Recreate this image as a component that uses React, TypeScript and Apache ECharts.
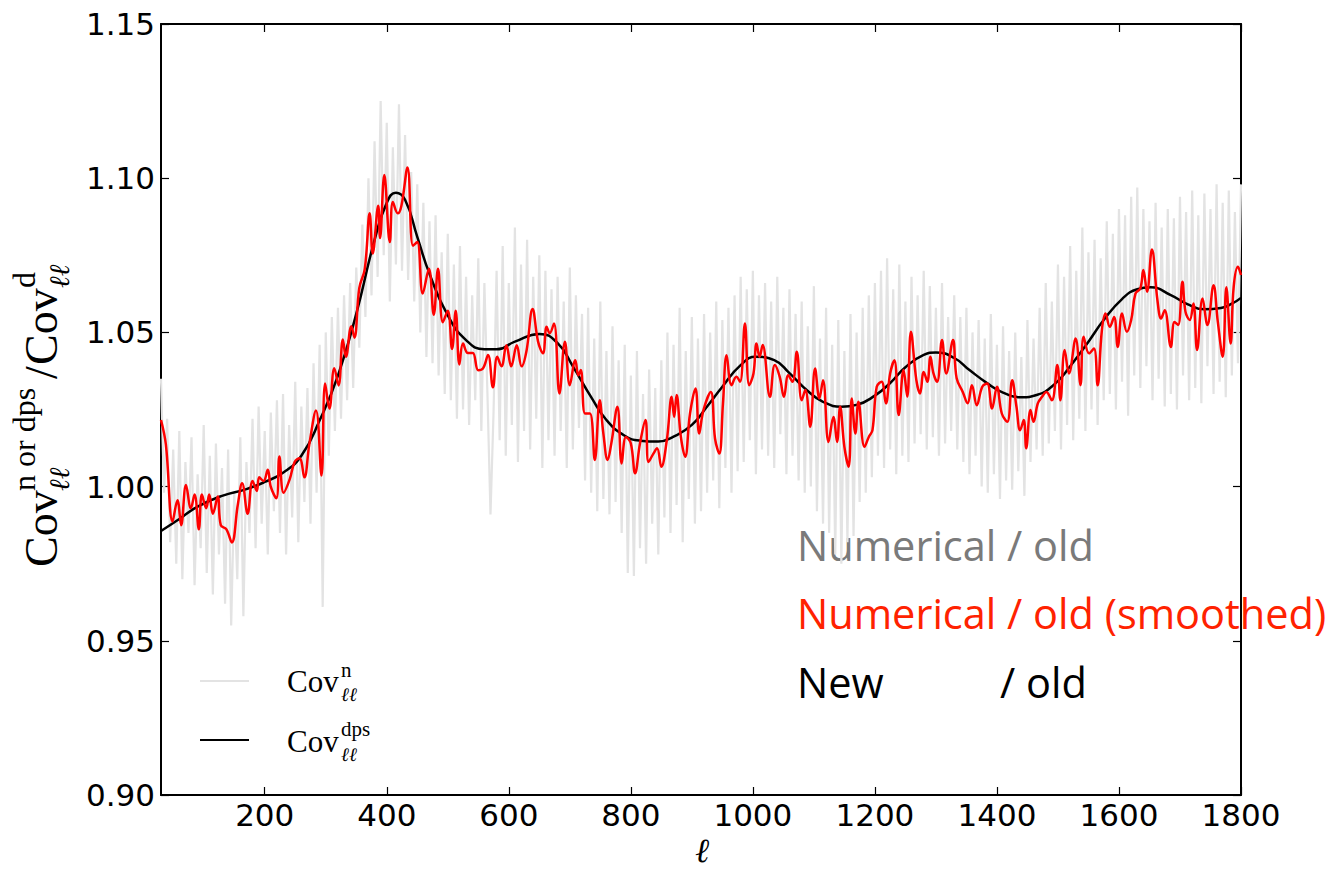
import React, { useEffect, useRef } from "react";
import * as echarts from "echarts";

// x tick labels (multipole ℓ)
const xTicks = [200, 400, 600, 800, 1000, 1200, 1400, 1600, 1800];
const xMin = 30;
const xMax = 1800;
const yMin = 0.9;
const yMax = 1.15;
const yStep = 0.05;

// Cov^n / old : noisy ratio, sampled on the grid ℓ = 30, 35, 40, ... 1800
const grayStart = 30;
const grayStep = 5;
const grayValues = [
  1.035, 0.998, 1.022, 0.982, 1.012, 0.975, 1.018, 0.970, 1.008, 0.985,
  1.016, 0.968, 1.004, 0.980, 1.020, 0.972, 1.010, 0.965, 1.014, 0.978,
  1.006, 0.962, 1.012, 0.955, 0.998, 0.970, 1.016, 0.958, 1.008, 0.985,
  1.022, 0.980, 1.026, 0.988, 1.018, 0.978, 1.024, 0.992, 1.028, 0.985,
  1.030, 0.978, 1.020, 0.990, 1.034, 0.982, 1.026, 0.995, 1.032, 0.988,
  1.040, 0.998, 1.046, 0.961, 1.050, 1.010, 1.055, 1.018, 1.058, 1.022,
  1.062, 1.028, 1.066, 1.032, 1.071, 1.045, 1.085, 1.055, 1.100, 1.062,
  1.112, 1.068, 1.125, 1.075, 1.118, 1.060, 1.110, 1.072, 1.124, 1.070,
  1.114, 1.067, 1.102, 1.060, 1.098, 1.050, 1.092, 1.042, 1.086, 1.040,
  1.088, 1.036, 1.076, 1.030, 1.082, 1.028, 1.072, 1.022, 1.078, 1.025,
  1.068, 1.020, 1.062, 1.028, 1.074, 1.018, 1.066, 1.030, 0.991, 1.024,
  1.070, 1.015, 1.078, 1.010, 1.066, 1.020, 1.084, 1.008, 1.072, 1.018,
  1.080, 1.012, 1.068, 1.022, 1.075, 1.006, 1.070, 1.015, 1.064, 1.010,
  1.068, 1.018, 1.060, 1.006, 1.071, 1.012, 1.062, 1.019, 1.056, 1.002,
  1.058, 0.998, 1.048, 0.992, 1.060, 0.996, 1.044, 0.991, 1.052, 0.995,
  1.041, 0.985, 1.046, 0.972, 1.036, 0.971, 1.044, 0.980, 1.030, 0.975,
  1.038, 0.988, 1.032, 0.978, 1.041, 0.990, 1.050, 0.985, 1.046, 0.994,
  1.058, 0.982, 1.044, 0.996, 1.055, 0.988, 1.048, 0.992, 1.056, 0.998,
  1.050, 1.002, 1.060, 0.993, 1.054, 1.006, 1.058, 0.998, 1.062, 1.005,
  1.068, 1.008, 1.064, 1.015, 1.070, 1.004, 1.062, 1.012, 1.066, 1.010,
  1.060, 1.006, 1.068, 1.017, 1.058, 1.004, 1.064, 1.010, 1.056, 1.002,
  1.060, 0.998, 1.052, 1.000, 1.065, 0.992, 1.048, 0.988, 1.058, 0.985,
  1.046, 0.978, 1.054, 0.975, 1.044, 0.982, 1.056, 0.984, 1.050, 0.995,
  1.058, 0.998, 1.062, 1.003, 1.066, 1.010, 1.070, 1.006, 1.074, 1.012,
  1.064, 1.004, 1.072, 1.010, 1.060, 1.008, 1.068, 1.014, 1.062, 1.017,
  1.070, 1.012, 1.065, 1.016, 1.058, 1.010, 1.066, 1.014, 1.055, 1.018,
  1.062, 1.012, 1.055, 1.008, 1.058, 1.004, 1.050, 1.010, 1.054, 1.000,
  1.048, 0.998, 1.056, 1.004, 1.046, 0.996, 1.052, 1.002, 1.044, 0.999,
  1.050, 1.005, 1.042, 0.997, 1.054, 1.008, 1.048, 1.012, 1.058, 1.010,
  1.066, 1.014, 1.060, 1.018, 1.072, 1.012, 1.068, 1.020, 1.078, 1.015,
  1.070, 1.022, 1.084, 1.018, 1.076, 1.025, 1.080, 1.020, 1.074, 1.028,
  1.086, 1.030, 1.082, 1.025, 1.090, 1.034, 1.088, 1.023, 1.094, 1.036,
  1.097, 1.032, 1.090, 1.039, 1.086, 1.028, 1.092, 1.035, 1.084, 1.026,
  1.090, 1.030, 1.087, 1.025, 1.094, 1.036, 1.089, 1.028, 1.096, 1.032,
  1.088, 1.027, 1.095, 1.039, 1.090, 1.030, 1.098, 1.034, 1.092, 1.029,
  1.096, 1.036, 1.089, 1.040, 1.098,
];

// Numerical / old (smoothed): [ℓ, ratio]
const redPoints = [
  [30, 1.0216], [38, 1.0136], [49, 0.9887], [57, 0.9956], [63, 0.9875], [71, 1.0005], [79, 0.993], [85, 0.9974],
  [92, 0.9862], [97, 0.9974], [104, 0.993], [109, 0.9974], [115, 0.9912], [123, 0.9968], [128, 0.9875], [137, 0.9862],
  [146, 0.9819], [156, 0.9943], [163, 1.0011], [172, 0.9912], [180, 1.0018], [187, 0.9986], [191, 1.003], [198, 1.0018],
  [205, 1.0055], [210, 0.9999], [219, 0.9962], [224, 1.0098], [231, 0.998], [241, 1.0024], [249, 1.008], [257, 1.0092],
  [265, 1.003], [273, 1.0136], [284, 1.0247], [293, 1.0036], [299, 1.0334], [306, 1.0253], [314, 1.0384], [321, 1.0328],
  [328, 1.0477], [333, 1.0421], [342, 1.052], [347, 1.0483], [355, 1.0644], [364, 1.0706], [372, 1.0886], [377, 1.0756],
  [386, 1.0911], [389, 1.0806], [396, 1.101], [405, 1.0793], [410, 1.0923], [418, 1.0886], [424, 1.0911], [434, 1.1035],
  [443, 1.0781], [450, 1.0793], [459, 1.0626], [469, 1.0706], [477, 1.0557], [484, 1.0706], [492, 1.0533], [500, 1.057],
  [507, 1.0446], [513, 1.057], [519, 1.0396], [525, 1.0464], [533, 1.0433], [541, 1.0433], [550, 1.0377], [558, 1.0384],
  [566, 1.0427], [574, 1.0322], [581, 1.0421], [588, 1.039], [596, 1.0458], [604, 1.039], [613, 1.0458], [621, 1.039],
  [629, 1.044], [639, 1.0576], [648, 1.047], [656, 1.0432], [662, 1.0518], [667, 1.0497], [674, 1.0529], [683, 1.0302],
  [692, 1.047], [700, 1.0329], [709, 1.041], [714, 1.0361], [718, 1.0378], [725, 1.0237], [733, 1.0237], [741, 1.0086],
  [749, 1.028], [755, 1.0172], [762, 1.0086], [768, 1.014], [778, 1.0259], [785, 1.0075], [792, 1.0161], [800, 1.014],
  [807, 1.0043], [815, 1.014], [824, 1.0216], [829, 1.008], [837, 1.0107], [843, 1.0124], [850, 1.0064], [859, 1.0151],
  [867, 1.0291], [871, 1.0226], [875, 1.0297], [882, 1.0161], [889, 1.0097], [897, 1.0237], [906, 1.0318], [912, 1.0172],
  [919, 1.0248], [931, 1.0307], [938, 1.0156], [945, 1.0107], [951, 1.027], [957, 1.0426], [965, 1.0329], [973, 1.0356],
  [979, 1.034], [987, 1.0529], [994, 1.0329], [1001, 1.0367], [1006, 1.0464], [1011, 1.0421], [1016, 1.0459], [1028, 1.0291],
  [1036, 1.0394], [1044, 1.0356], [1051, 1.0291], [1058, 1.0361], [1065, 1.034], [1072, 1.0437], [1080, 1.028], [1086, 1.0313],
  [1094, 1.0194], [1102, 1.0383], [1109, 1.0286], [1115, 1.0345], [1124, 1.0145], [1132, 1.0226], [1138, 1.0145], [1143, 1.0259],
  [1150, 1.0129], [1157, 1.0064], [1162, 1.0286], [1168, 1.0172], [1173, 1.0275], [1183, 1.0129], [1190, 1.0161], [1196, 1.0183],
  [1203, 1.0324], [1211, 1.034], [1218, 1.027], [1225, 1.0367], [1232, 1.041], [1239, 1.0232], [1247, 1.0378], [1253, 1.0291],
  [1259, 1.0502], [1268, 1.0345], [1274, 1.0302], [1280, 1.0372], [1286, 1.034], [1291, 1.0421], [1296, 1.0367], [1302, 1.034],
  [1310, 1.0475], [1317, 1.0367], [1328, 1.0475], [1334, 1.0351], [1344, 1.0307], [1352, 1.027], [1359, 1.0329], [1367, 1.0264],
  [1376, 1.0324], [1384, 1.0334], [1392, 1.0253], [1400, 1.0324], [1408, 1.0237], [1417, 1.021], [1425, 1.0345], [1432, 1.0259],
  [1438, 1.0183], [1444, 1.0216], [1448, 1.0124], [1455, 1.0248], [1460, 1.021], [1467, 1.027], [1474, 1.0291], [1481, 1.0307],
  [1490, 1.028], [1499, 1.0394], [1504, 1.028], [1511, 1.0443], [1518, 1.0367], [1529, 1.048], [1537, 1.0329], [1542, 1.0486],
  [1551, 1.0432], [1559, 1.0448], [1565, 1.0329], [1572, 1.0507], [1578, 1.0561], [1585, 1.0518], [1592, 1.055], [1598, 1.0453],
  [1605, 1.0561], [1613, 1.0502], [1620, 1.054], [1627, 1.0626], [1635, 1.0643], [1640, 1.0702], [1646, 1.0632], [1654, 1.0769],
  [1663, 1.0605], [1669, 1.0545], [1675, 1.0572], [1685, 1.0453], [1691, 1.0534], [1697, 1.0524], [1704, 1.0664], [1709, 1.0567],
  [1716, 1.054], [1722, 1.0594], [1728, 1.0443], [1737, 1.061], [1745, 1.0524], [1755, 1.0653], [1762, 1.0534], [1770, 1.0421],
  [1776, 1.0646], [1783, 1.0464], [1788, 1.0648], [1795, 1.0713], [1800, 1.0686],
];

// New / old (Cov^dps): [ℓ, ratio]
const blackPoints = [
  [30, 0.9856], [60, 0.9895], [90, 0.9935], [130, 0.997], [170, 0.9992], [200, 1.0015], [230, 1.0045], [260, 1.010],
  [290, 1.0215], [320, 1.036], [350, 1.056], [380, 1.080], [400, 1.092], [415, 1.0953], [430, 1.093], [450, 1.081],
  [470, 1.069], [500, 1.0555], [530, 1.0475], [560, 1.0445], [580, 1.0445], [610, 1.047], [650, 1.0495], [680, 1.0465],
  [705, 1.039], [735, 1.029], [760, 1.0216], [790, 1.0165], [815, 1.0149], [845, 1.0146], [870, 1.0162], [900, 1.020],
  [925, 1.026], [950, 1.0324], [980, 1.0394], [1005, 1.0421], [1035, 1.041], [1060, 1.0368], [1090, 1.031], [1115, 1.0275],
  [1145, 1.0259], [1170, 1.0265], [1200, 1.0295], [1225, 1.0336], [1250, 1.0387], [1280, 1.0427], [1300, 1.0435], [1330, 1.0417],
  [1355, 1.0378], [1385, 1.0334], [1410, 1.0305], [1440, 1.029], [1465, 1.0297], [1495, 1.0333], [1520, 1.039], [1550, 1.047],
  [1575, 1.054], [1605, 1.0608], [1630, 1.064], [1652, 1.0646], [1685, 1.0621], [1712, 1.0592], [1740, 1.0575], [1767, 1.0579],
  [1785, 1.0593], [1800, 1.0612],
];

const GRAY = "#e3e3e3";
const SERIF = "'Liberation Serif', 'DejaVu Serif', serif";
const ELL = "'DejaVu Serif', serif";
const SANS = "'Open Sans', 'Noto Sans', sans-serif";

// text helper: y given as alphabetic baseline
function t(x: number, base: number, text: string, size: number, family: string, color = "#000", italic = false, k = 0.34): any {
  return {
    type: "text",
    x,
    y: base - k * size,
    silent: true,
    style: {
      text,
      fontSize: size,
      fontFamily: family,
      fontStyle: italic ? "italic" : "normal",
      fill: color,
      align: "left",
      verticalAlign: "middle",
    },
  };
}

export default function App() {
  const ref = useRef<HTMLDivElement>(null);

  useEffect(() => {
    if (!ref.current) return;
    const chart = echarts.init(ref.current, null, { renderer: "svg" });

    const grayData = grayValues.map((v, i) => [grayStart + grayStep * i, v]);

    const axisLine = { show: true, onZero: false, lineStyle: { color: "#000", width: 2 } };
    const tickStyle = { color: "#000", width: 1.2 };

    const F = 46; // y label main size
    const S = 32; // y label script size
    const yLabel = {
      type: "group",
      x: 57,
      y: 567,
      rotation: Math.PI / 2,
      children: [
        t(0, 0, "Cov", F, SERIF),
        t(76, -22, "n or dps", S, SERIF),
        t(76, 12, "ℓℓ", 28, ELL, "#000", true),
        t(188, 0, "/", F, SERIF),
        t(202, 0, "Cov", F, SERIF),
        t(279, -22, "d", S, SERIF),
        t(279, 12, "ℓℓ", 28, ELL, "#000", true),
      ],
    };

    const option: any = {
      animation: false,
      backgroundColor: "#fff",
      grid: { left: 161, right: 87, top: 24, bottom: 76, containLabel: false },
      xAxis: [
        {
          type: "value",
          min: xMin,
          max: xMax,
          position: "bottom",
          axisLine,
          axisTick: { show: true, inside: true, length: 8, lineStyle: tickStyle, customValues: xTicks },
          axisLabel: {
            customValues: xTicks,
            fontSize: 31,
            fontFamily: "'DejaVu Sans', sans-serif",
            color: "#000",
            margin: 4,
            formatter: (v: number) => String(v),
          },
          splitLine: { show: false },
        },
        {
          type: "value",
          min: xMin,
          max: xMax,
          position: "top",
          axisLine,
          axisTick: { show: true, inside: true, length: 8, lineStyle: tickStyle, customValues: xTicks },
          axisLabel: { show: false },
          splitLine: { show: false },
        },
      ],
      yAxis: [
        {
          type: "value",
          min: yMin,
          max: yMax,
          interval: yStep,
          position: "left",
          axisLine,
          axisTick: { show: true, inside: true, length: 8, lineStyle: tickStyle },
          axisLabel: {
            fontSize: 31,
            fontFamily: "'DejaVu Sans', sans-serif",
            color: "#000",
            margin: 6,
            formatter: (v: number) => v.toFixed(2),
          },
          splitLine: { show: false },
        },
        {
          type: "value",
          min: yMin,
          max: yMax,
          interval: yStep,
          position: "right",
          axisLine,
          axisTick: { show: true, inside: true, length: 8, lineStyle: tickStyle },
          axisLabel: { show: false },
          splitLine: { show: false },
        },
      ],
      series: [
        {
          name: "Cov n",
          type: "line",
          data: grayData,
          showSymbol: false,
          symbol: "none",
          lineStyle: { color: GRAY, width: 2.2 },
          z: 1,
          silent: true,
        },
        {
          name: "Cov dps",
          type: "line",
          data: blackPoints,
          showSymbol: false,
          symbol: "none",
          smooth: 0.5,
          lineStyle: { color: "#000", width: 2.5 },
          z: 2,
          silent: true,
        },
        {
          name: "smoothed",
          type: "line",
          data: redPoints,
          showSymbol: false,
          symbol: "none",
          smooth: 0.4,
          lineStyle: { color: "#ff0000", width: 2.5 },
          z: 3,
          silent: true,
        },
      ],
      graphic: [
        yLabel,
        {
          type: "text",
          x: 702,
          y: 850,
          silent: true,
          style: {
            text: "ℓ",
            fontSize: 34,
            fontFamily: ELL,
            fontStyle: "italic",
            fill: "#000",
            align: "center",
            verticalAlign: "middle",
          },
        },
        // legend
        { type: "line", silent: true, shape: { x1: 200, y1: 681, x2: 249, y2: 681 }, style: { stroke: GRAY, lineWidth: 2 } },
        { type: "line", silent: true, shape: { x1: 200, y1: 740, x2: 249, y2: 740 }, style: { stroke: "#000", lineWidth: 2 } },
        t(287, 692, "Cov", 31, SERIF),
        t(341, 677, "n", 21, SERIF),
        t(341, 700, "ℓℓ", 19, ELL, "#000", true),
        t(287, 752, "Cov", 31, SERIF),
        t(341, 736, "dps", 21, SERIF),
        t(341, 760, "ℓℓ", 19, ELL, "#000", true),
        // annotations
        t(797, 560, "Numerical / old", 41.5, SANS, "#7a7a7a", false, 0.36),
        t(797, 628, "Numerical / old (smoothed)", 41.5, SANS, "#ff2200", false, 0.36),
        t(797, 697, "New", 41.5, SANS, "#000", false, 0.36),
        t(1000, 697, "/ old", 41.5, SANS, "#000", false, 0.36),
      ],
    };

    chart.setOption(option);
    return () => chart.dispose();
  }, []);

  return (
    <div
      ref={ref}
      style={{ position: "fixed", left: 0, top: 0, width: 1328, height: 871, background: "#fff" }}
    />
  );
}
